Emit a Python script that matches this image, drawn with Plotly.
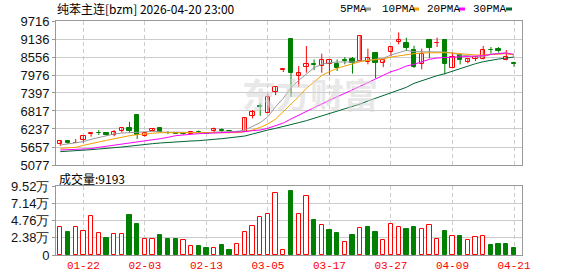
import plotly.graph_objects as go

dates = ["01-19", "01-20", "01-21", "01-22", "01-23", "01-26", "01-27", "01-28", "01-29", "01-30",
         "02-02", "02-03", "02-04", "02-05", "02-06", "02-09", "02-10", "02-11", "02-12", "02-13",
         "02-24", "02-25", "02-26", "02-27", "03-02", "03-03", "03-04", "03-05",
         "03-06", "03-09", "03-10", "03-11", "03-12", "03-13", "03-16", "03-17",
         "03-18", "03-19", "03-20", "03-23", "03-24", "03-25", "03-26", "03-27",
         "03-30", "03-31", "04-01", "04-02", "04-03", "04-07", "04-08", "04-09",
         "04-10", "04-13", "04-14", "04-15", "04-16", "04-17", "04-20", "04-21"]

opens = [5743, 5850, 5790, 5883, 6070, 6105, 6110, 6045, 6162, 6270,
         6690, 6020, 6160, 6280, 6115, 6118, 6085, 6080, 6140, 6115,
         6160, 6200, 6175, 6155, 6150, 6660, 6980, 6763, 7437, 8150,
         9150, 7944, 8245, 8320, 8266, 8320, 8320, 8460, 8480, 8427,
         8406, 8674, 8352, 8717, 9040, 9018, 8792, 8320, 9093, 9000,
         9114, 8190, 8620, 8395, 8502, 8480, 8792, 8800, 8448, 8352]
highs = [5850, 5850, 5915, 6012, 6130, 6205, 6120, 6200, 6260, 6470,
         6690, 6150, 6237, 6280, 6170, 6125, 6120, 6160, 6190, 6120,
         6280, 6258, 6205, 6165, 6600, 6850, 7060, 7354, 7590, 8159,
         9150, 8266, 8910, 8480, 8663, 8459, 8480, 8556, 8556, 9265,
         8825, 8700, 8448, 8878, 9350, 9179, 8921, 8825, 9093, 9179,
         9114, 8696, 8620, 8502, 8567, 8910, 8878, 8878, 8781, 8405]
lows = [5690, 5755, 5790, 5797, 5990, 6045, 6020, 6000, 6120, 6120,
        5915, 5990, 6160, 6130, 6070, 6076, 6050, 6076, 6097, 6076,
        6130, 6130, 6150, 6125, 6150, 6580, 6660, 6763, 7326, 8073,
        7270, 7590, 8050, 8130, 8050, 7976, 8105, 8320, 8020, 8395,
        8320, 7870, 8230, 8588, 8964, 8749, 8200, 8159, 8513, 8878,
        7997, 8190, 8320, 8352, 8427, 8480, 8663, 8700, 8448, 8245]
closes = [5850, 5800, 5795, 6012, 6095, 6095, 6030, 6130, 6260, 6185,
          6045, 6110, 6237, 6150, 6105, 6090, 6075, 6150, 6125, 6090,
          6237, 6185, 6165, 6140, 6580, 6770, 6950, 7279, 7580, 8159,
          8040, 8051, 8320, 8290, 8459, 8455, 8190, 8440, 8373, 9233,
          8513, 8352, 8448, 8878, 9093, 8857, 8223, 8663, 8857, 9018,
          8320, 8556, 8448, 8502, 8567, 8781, 8770, 8760, 8556, 8320]

ma5 = [5721, 5753, 5775, 5829, 5904, 5957, 6033, 6076, 6108, 6129,
       6130, 6146, 6160, 6145, 6129, 6138, 6131, 6114, 6109, 6106,
       6135, 6150, 6155, 6160, 6204, 6312, 6441, 6634, 6956, 7225,
       7568, 7800, 7997, 8212, 8320, 8373, 8395, 8395, 8395, 8427,
       8448, 8481, 8513, 8620, 8706, 8770, 8728, 8728, 8717, 8717,
       8717, 8685, 8620, 8599, 8556, 8566, 8642, 8674, 8685, 8620]
ma10 = [5614, 5630, 5646, 5710, 5753, 5818, 5871, 5925, 5979, 6022,
        6054, 6086, 6097, 6118, 6118, 6118, 6118, 6118, 6118, 6118,
        6118, 6118, 6118, 6118, 6151, 6204, 6290, 6398, 6559, 6795,
        7042, 7278, 7547, 7762, 7960, 8083, 8191, 8266, 8341, 8405,
        8448, 8470, 8491, 8556, 8599, 8620, 8663, 8685, 8695, 8695,
        8695, 8685, 8663, 8620, 8620, 8620, 8642, 8663, 8663, 8620]
ma20 = [5560, 5565, 5572, 5585, 5603, 5646, 5678, 5721, 5743, 5775,
        5818, 5850, 5882, 5925, 5968, 6022, 6043, 6076, 6086, 6097,
        6108, 6118, 6129, 6129, 6151, 6183, 6204, 6260, 6340, 6430,
        6560, 6690, 6795, 6924, 7042, 7171, 7278, 7386, 7493, 7622,
        7729, 7850, 7976, 8083, 8158, 8266, 8320, 8405, 8481, 8524,
        8534, 8545, 8556, 8566, 8577, 8599, 8642, 8663, 8685, 8642]
ma30 = [5507, 5517, 5528, 5549, 5571, 5592, 5603, 5635, 5657, 5689,
        5710, 5732, 5764, 5786, 5807, 5829, 5839, 5850, 5861, 5871,
        5904, 5925, 5947, 5968, 6011, 6076, 6151, 6204, 6258, 6312,
        6366, 6441, 6505, 6581, 6677, 6752, 6827, 6881, 6956, 7042,
        7139, 7225, 7300, 7397, 7493, 7579, 7708, 7794, 7875, 7955,
        8019, 8105, 8191, 8266, 8341, 8405, 8459, 8491, 8524, 8556]

volume = [38900, 31580, 38900, 32500, 54470, 29750, 23340, 28380, 28380, 54920,
          42570, 21510, 21510, 27460, 21510, 21510, 20140, 11900, 11900, 9610,
          9150, 13270, 6870, 14650, 31120, 39360, 53090, 56300, 86050, 6410,
          87880, 56300, 81010, 48060, 41190, 34330, 30670, 17850, 27460, 36620,
          38450, 31580, 20600, 42570, 37990, 35700, 38450, 35240, 40740, 21510,
          32950, 25630, 26090, 20140, 24260, 25630, 13730, 15100, 15100, 9193]
vol_up = [1, 0, 1, 1, 1, 1, 0, 1, 1, 0, 0, 1, 1, 0, 0, 0, 1, 1, 0, 0,
          1, 0, 0, 1, 1, 1, 1, 1, 1, 1, 0, 1, 1, 0, 1, 0, 0, 1, 0, 1,
          0, 0, 1, 1, 1, 0, 0, 1, 1, 1, 0, 1, 0, 1, 1, 1, 0, 0, 0, 0]

price_ticks = [5077, 5657, 6237, 6817, 7397, 7976, 8556, 9136, 9716]
vol_ticks = [0, 23800, 47600, 71400, 95200]
vol_tick_text = ["0", "2.38万", "4.76万", "7.14万", "9.52万"]
ma_names = ["5PMA", "10PMA", "20PMA", "30PMA"]

RED = "#ff0000"
GREEN = "#008000"
MA_COLORS = ["#999999", "#f5a000", "#ff00ff", "#006633"]

n = len(dates)
xs = list(range(n))
tickidx = [i for i in xs if i % 8 == 3]

fig = go.Figure()

# wicks
for up, col in [(True, RED), (False, GREEN)]:
    wx, wy = [], []
    for i in xs:
        if (closes[i] >= opens[i]) == up:
            wx += [i, i, None]
            wy += [lows[i], highs[i], None]
    fig.add_trace(go.Scatter(x=wx, y=wy, mode="lines", line=dict(color=col, width=1),
                             hoverinfo="skip", xaxis="x", yaxis="y"))

# bodies
min_h = 14
for up, fill, col in [(True, "white", RED), (False, GREEN, GREEN)]:
    bx, bb, bh = [], [], []
    for i in xs:
        if (closes[i] >= opens[i]) == up:
            lo, hi = min(opens[i], closes[i]), max(opens[i], closes[i])
            h = max(hi - lo, min_h)
            bx.append(i)
            bb.append(lo if hi - lo >= min_h else (lo + hi) / 2 - h / 2)
            bh.append(h)
    fig.add_trace(go.Bar(x=bx, y=bh, base=bb, width=0.56,
                         marker=dict(color=fill, line=dict(color=col, width=1)),
                         xaxis="x", yaxis="y", hoverinfo="skip"))

# moving averages
for name, vals, col in zip(ma_names, [ma5, ma10, ma20, ma30], MA_COLORS):
    fig.add_trace(go.Scatter(x=xs, y=vals, mode="lines", name=name,
                             line=dict(color=col, width=1), xaxis="x", yaxis="y"))

# volume
for up, fill, col in [(1, "white", RED), (0, GREEN, GREEN)]:
    vx = [i for i in xs if vol_up[i] == up]
    vy = [volume[i] for i in vx]
    fig.add_trace(go.Bar(x=vx, y=vy, width=0.56,
                         marker=dict(color=fill, line=dict(color=col, width=1)),
                         xaxis="x2", yaxis="y2", hoverinfo="skip"))

W, H = 578, 276
L, R, T, B = 56, 56, 21, 21
PW, PH = W - L - R, H - T - B


def py(pix):
    return (H - B - pix) / PH


def px(pix):
    return (pix - L) / PW


tick_font = dict(family="Liberation Sans, Arial", size=13, color="#111111")
xr = [-0.56, n - 1 + 1.04]

common_x = dict(range=xr, showgrid=True, gridcolor="#cccccc", griddash="4px,3px", gridwidth=1,
                tickvals=tickidx, showline=True, linecolor="#999999", mirror=True,
                zeroline=False, ticks="", fixedrange=True)
fig.update_layout(
    width=W, height=H, margin=dict(l=L, r=R, t=T, b=B, autoexpand=False),
    template="none", paper_bgcolor="white", plot_bgcolor="white",
    showlegend=False, barmode="overlay", bargap=0,
    xaxis=dict(domain=[0, 1], anchor="y", showticklabels=False, **common_x),
    yaxis=dict(domain=[py(165), 1], anchor="x", range=[5077, 9716], tickvals=price_ticks,
               showgrid=True, gridcolor="#cccccc", gridwidth=1, showline=True,
               linecolor="#999999", mirror=True, zeroline=False, ticks="outside",
               ticklen=3, tickcolor="#999999", tickfont=tick_font, automargin=False),
    xaxis2=dict(domain=[0, 1], anchor="y2", ticktext=[dates[i] for i in tickidx],
                tickfont=dict(family="Liberation Mono, monospace", size=11, color=RED),
                automargin=False, **common_x),
    yaxis2=dict(domain=[0, py(186)], anchor="x2", range=[0, 95200], tickvals=vol_ticks,
                ticktext=vol_tick_text, showgrid=True, gridcolor="#cccccc", gridwidth=1,
                showline=True, linecolor="#999999", mirror=True, zeroline=False,
                ticks="outside", ticklen=3, tickcolor="#999999", tickfont=tick_font,
                automargin=False),
)

ann = []
ann.append(dict(text="纯苯主连[bzm] 2026-04-20 23:00", x=px(55), y=py(9), xref="paper", yref="paper",
                xanchor="left", yanchor="middle", showarrow=False,
                font=dict(family="Noto Sans CJK SC", size=12, color="#000000")))
ann.append(dict(text="成交量:" + str(volume[-1]), x=px(57), y=py(178), xref="paper", yref="paper",
                xanchor="left", yanchor="middle", showarrow=False,
                font=dict(family="Noto Sans CJK SC", size=12, color="#000000")))
ann.append(dict(text="东方财富", x=px(310), y=py(93), xref="paper", yref="paper",
                xanchor="center", yanchor="middle", showarrow=False, opacity=0.55,
                font=dict(family="Noto Sans CJK SC", size=34, color="#d6d6d6", weight="bold")))

leg_text_x = [338, 380, 425, 471]
leg_mark_x = [365, 413, 459, 506]
shapes = []
for name, tx, mx, col in zip(ma_names, leg_text_x, leg_mark_x, MA_COLORS):
    ann.append(dict(text=name, x=px(tx), y=py(9), xref="paper", yref="paper",
                    xanchor="left", yanchor="middle", showarrow=False,
                    font=dict(family="Liberation Mono, monospace", size=11, color="#000000")))
    shapes.append(dict(type="rect", xref="paper", yref="paper", x0=px(mx), x1=px(mx + 6),
                       y0=py(10.5), y1=py(7.5), fillcolor=col, line=dict(width=0)))

fig.update_layout(annotations=ann, shapes=shapes)
fig.write_html("out.html")
